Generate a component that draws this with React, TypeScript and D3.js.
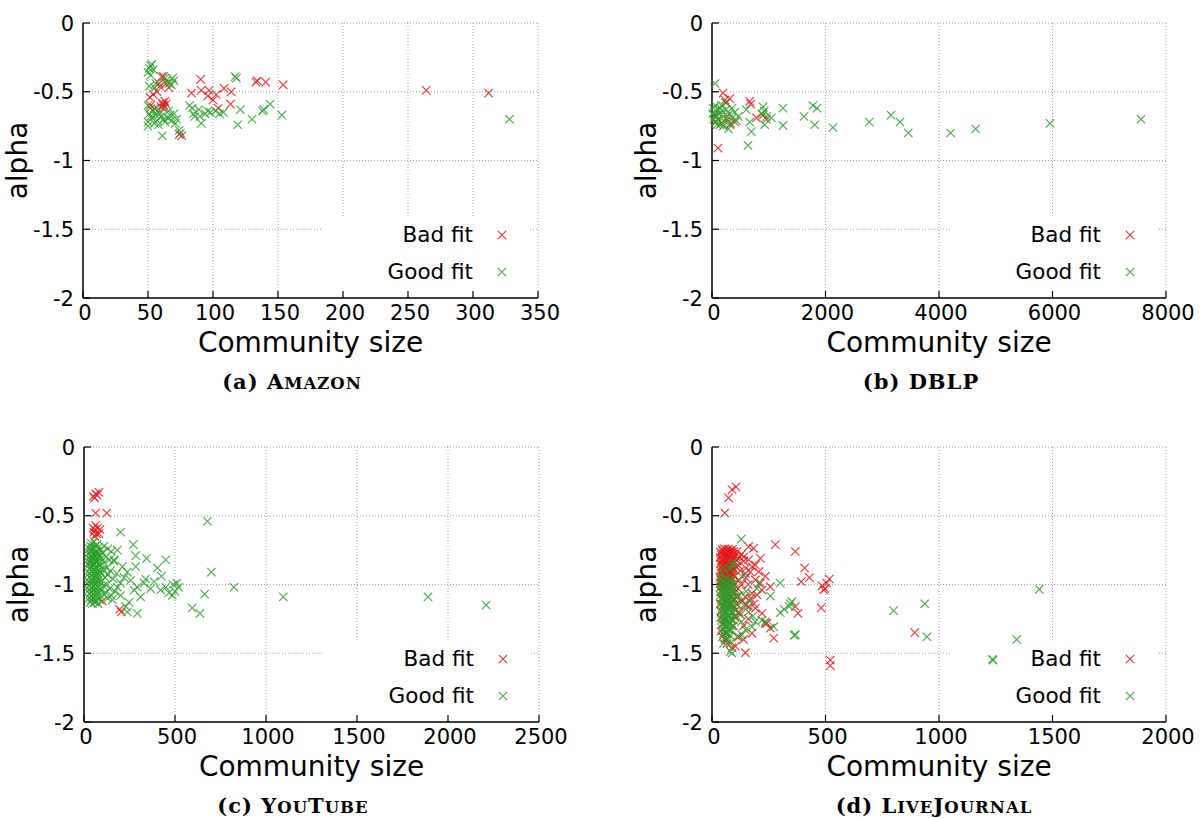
import React from 'react';
import * as d3 from 'd3';

type Pt = [number, number];

// ---- Amazon ----
const amazonBad: Pt[] = [
  [51.5, -0.54], [52, -0.6], [54, -0.52], [55, -0.62],
  [58.5, -0.44], [60.5, -0.39], [62, -0.39], [59, -0.46], [64, -0.44], [66, -0.47], [57, -0.5],
  [61, -0.58], [62, -0.6], [63, -0.57], [60, -0.61], [64, -0.59], [62, -0.62], [61.5, -0.595],
  [74, -0.81], [76, -0.82],
  [90.5, -0.41], [83.5, -0.51], [91, -0.49], [97, -0.49], [96, -0.53], [102.5, -0.52], [100, -0.56],
  [104, -0.62], [108.5, -0.475], [114, -0.5], [113.5, -0.59], [133, -0.43], [134, -0.42],
  [140.5, -0.43], [154, -0.45], [264, -0.49], [312, -0.51],
];
const amazonGood: Pt[] = [
  [52, -0.31], [51, -0.33], [54, -0.34], [53, -0.3], [50, -0.36], [52, -0.38],
  [56, -0.44], [51, -0.46], [55, -0.47],
  [63, -0.4], [64, -0.42], [66, -0.44], [69, -0.4], [68, -0.45], [70, -0.42],
  [50, -0.6], [52, -0.62], [54, -0.64], [51, -0.66], [56, -0.67], [58, -0.63], [53, -0.69],
  [57, -0.71], [50, -0.72], [60, -0.68], [62, -0.7], [55, -0.73], [50, -0.75], [59, -0.66],
  [65, -0.69], [67, -0.67], [63, -0.72], [68, -0.71], [70, -0.66], [72, -0.7], [71, -0.73],
  [52, -0.68], [58, -0.74], [66, -0.64],
  [61, -0.82], [74, -0.78], [75, -0.8],
  [82, -0.6], [85, -0.66], [84, -0.62], [89, -0.63], [90, -0.68], [94, -0.66], [96, -0.64],
  [91, -0.73], [86, -0.68], [98, -0.65], [102, -0.64], [105, -0.66], [108, -0.65],
  [118, -0.4], [117, -0.39], [121, -0.63], [119, -0.74], [130, -0.7], [139, -0.63], [138, -0.64],
  [144, -0.59], [153, -0.67], [328, -0.7],
];

// ---- DBLP ----
const dblpBad: Pt[] = [
  [106, -0.91], [194, -0.51], [312, -0.55], [252, -0.58], [230, -0.56], [664, -0.57], [680, -0.59],
  [781, -0.69], [899, -0.67], [957, -0.7], [47, -0.67], [164, -0.73], [400, -0.72], [100, -0.7],
  [320, -0.74], [270, -0.68], [60, -0.72],
];
const dblpGood: Pt[] = [
  [53, -0.44],
  [20, -0.62], [40, -0.65], [60, -0.6], [80, -0.68], [100, -0.63], [120, -0.66], [150, -0.62],
  [30, -0.7], [70, -0.72], [110, -0.7], [140, -0.74], [180, -0.64], [200, -0.68], [230, -0.72],
  [250, -0.63], [270, -0.7], [300, -0.66], [330, -0.73], [360, -0.69], [400, -0.65], [430, -0.71],
  [460, -0.68], [200, -0.75], [290, -0.77], [170, -0.6], [240, -0.58], [350, -0.62], [90, -0.74],
  [50, -0.68], [15, -0.66],
  [634, -0.89], [693, -0.79], [664, -0.72], [605, -0.63], [899, -0.61], [920, -0.64], [1045, -0.69],
  [928, -0.74], [880, -0.66], [960, -0.68], [1251, -0.62], [1251, -0.745], [1621, -0.68],
  [1780, -0.6], [1850, -0.62], [1809, -0.74], [2132, -0.76], [2772, -0.72], [3154, -0.67],
  [3313, -0.72], [3459, -0.8], [4206, -0.8], [4646, -0.77], [5956, -0.73], [7559, -0.7],
];

// ---- YouTube ----
const youtubeBad: Pt[] = [
  [51, -0.36], [64, -0.34], [82, -0.33], [72, -0.35], [58, -0.37], [64, -0.48], [125, -0.48],
  [64, -0.57], [50, -0.59], [58, -0.6], [75, -0.59], [88, -0.6], [54, -0.62], [68, -0.63],
  [82, -0.63], [60, -0.65], [101, -1.12], [205, -1.2], [196, -1.18],
];
const youtubeGood: Pt[] = [
  [40, -0.7], [55, -0.69], [70, -0.71],
  [35, -0.72], [48, -0.73], [62, -0.72], [80, -0.73], [110, -0.72],
  [30, -0.74], [42, -0.75], [56, -0.74], [70, -0.76], [90, -0.75], [130, -0.74],
  [28, -0.77], [38, -0.76], [50, -0.78], [64, -0.77], [78, -0.78], [100, -0.77], [150, -0.76],
  [32, -0.79], [45, -0.8], [58, -0.79], [72, -0.8], [88, -0.79], [120, -0.8],
  [27, -0.81], [36, -0.82], [48, -0.81], [60, -0.83], [74, -0.82], [95, -0.81], [140, -0.82],
  [30, -0.84], [42, -0.83], [54, -0.85], [67, -0.84], [82, -0.85], [110, -0.84], [165, -0.83],
  [26, -0.86], [38, -0.87], [50, -0.86], [62, -0.88], [76, -0.87], [92, -0.86], [125, -0.88],
  [33, -0.89], [45, -0.9], [57, -0.89], [70, -0.91], [86, -0.9], [105, -0.89], [145, -0.9],
  [28, -0.92], [40, -0.93], [52, -0.92], [64, -0.94], [78, -0.93], [98, -0.92], [130, -0.93], [180, -0.92],
  [31, -0.95], [43, -0.96], [55, -0.95], [68, -0.97], [84, -0.96], [115, -0.95], [160, -0.96],
  [26, -0.98], [37, -0.99], [49, -0.98], [61, -1.0], [74, -0.99], [92, -0.98], [125, -1.0], [200, -0.99],
  [30, -1.01], [42, -1.02], [54, -1.01], [66, -1.03], [80, -1.02], [105, -1.01], [140, -1.03],
  [27, -1.04], [39, -1.05], [51, -1.04], [63, -1.06], [77, -1.05], [95, -1.04], [120, -1.06], [170, -1.05],
  [32, -1.07], [44, -1.08], [56, -1.07], [69, -1.09], [88, -1.08], [110, -1.07], [150, -1.08],
  [28, -1.1], [40, -1.11], [52, -1.1], [65, -1.12], [85, -1.11], [130, -1.1],
  [35, -1.13], [47, -1.14], [60, -1.13], [78, -1.14],
  [201, -0.62], [271, -0.71], [284, -0.79], [344, -0.81], [449, -0.82], [403, -0.88], [425, -0.94],
  [339, -0.96], [330, -0.99], [366, -1.03], [293, -1.02], [256, -0.97], [238, -0.91], [284, -0.87],
  [183, -0.75], [165, -0.82], [211, -0.87], [220, -0.95], [183, -1.02], [201, -1.08], [156, -1.11],
  [238, -1.2], [229, -1.16], [247, -1.13], [275, -1.04], [311, -1.09], [293, -1.21],
  [385, -0.98], [449, -1.02], [421, -1.04], [467, -1.06], [485, -1.08], [490, -1.0], [510, -0.99],
  [520, -1.02], [500, -1.05],
  [678, -0.54], [700, -0.91], [824, -1.02], [1095, -1.09], [663, -1.07], [595, -1.17], [637, -1.21],
  [1890, -1.09], [2210, -1.15],
];

// ---- LiveJournal ----
const livejournalBad: Pt[] = [
  [45, -0.745], [55, -0.74], [64, -0.748], [72, -0.742], [80, -0.75], [90, -0.746],
  [38, -0.765], [48, -0.76], [58, -0.768], [67, -0.762], [76, -0.77], [85, -0.764], [96, -0.76],
  [42, -0.785], [52, -0.78], [61, -0.79], [70, -0.783], [80, -0.788], [91, -0.78], [102, -0.79],
  [36, -0.805], [46, -0.81], [56, -0.8], [65, -0.808], [74, -0.803], [86, -0.81], [97, -0.806],
  [40, -0.83], [50, -0.825], [59, -0.832], [68, -0.828], [78, -0.835], [89, -0.83], [110, -0.825],
  [37, -0.85], [47, -0.855], [56, -0.848], [64, -0.853], [73, -0.85], [83, -0.857], [94, -0.85],
  [43, -0.875], [53, -0.87], [62, -0.878], [71, -0.872], [80, -0.88], [91, -0.875], [105, -0.87],
  [38, -0.9], [48, -0.895], [57, -0.902], [66, -0.898], [76, -0.905], [86, -0.9], [98, -0.895],
  [41, -0.92], [51, -0.925], [60, -0.918], [69, -0.927], [79, -0.922], [92, -0.93],
  [36, -0.945], [46, -0.94], [55, -0.948], [64, -0.943], [73, -0.95], [84, -0.945], [100, -0.94],
  [40, -0.97], [50, -0.965], [58, -0.972], [67, -0.968], [77, -0.975], [88, -0.97],
  [37, -0.99], [47, -0.995], [56, -0.988], [66, -0.996], [80, -0.99], [95, -1.0],
  [42, -1.015], [52, -1.02], [62, -1.012], [75, -1.025], [90, -1.02],
  [38, -1.05], [48, -1.06], [60, -1.045], [72, -1.07], [86, -1.055], [100, -1.06],
  [40, -1.1], [55, -1.09], [68, -1.11], [82, -1.095], [96, -1.1], [112, -1.09],
  [36, -1.14], [50, -1.15], [64, -1.13], [78, -1.145], [92, -1.15], [108, -1.14],
  [42, -1.19], [58, -1.2], [72, -1.18], [88, -1.2], [104, -1.19], [118, -1.2],
  [38, -1.24], [54, -1.25], [70, -1.23], [86, -1.26], [102, -1.24],
  [44, -1.29], [60, -1.3], [76, -1.28], [94, -1.3],
  [40, -1.34], [58, -1.35], [76, -1.33],
  [46, -1.38], [64, -1.4],
  [110, -0.76], [120, -0.8], [115, -0.86], [125, -0.9], [130, -0.78], [140, -0.83], [150, -0.88],
  [161, -0.725], [183, -0.737], [213, -0.81], [191, -0.858], [206, -0.907], [176, -0.87],
  [147, -0.92], [191, -0.967], [213, -0.99], [176, -1.064], [198, -1.076], [220, -1.04],
  [147, -1.088], [161, -1.16], [191, -1.173], [220, -1.21], [242, -1.282], [257, -1.318],
  [176, -1.355], [139, -1.4], [117, -1.38], [103, -1.45], [66, -1.43], [59, -1.4], [88, -1.46],
  [147, -1.496], [235, -0.94], [257, -1.016], [130, -1.0], [135, -1.12], [125, -1.22], [160, -1.25],
  [140, -1.3], [235, -1.282], [272, -1.39], [139, -0.8], [161, -0.82], [169, -0.91], [150, -0.95],
  [120, -0.97], [160, -1.0], [115, -1.03], [170, -1.1], [185, -1.14], [150, -1.15],
  [56, -0.48], [73, -0.37], [88, -0.31], [106, -0.29], [279, -0.71], [367, -0.76], [408, -0.88],
  [429, -0.95], [393, -0.98], [517, -0.96], [498, -1.03], [485, -1.01], [505, -0.99], [492, -1.04],
  [481, -1.17], [379, -1.21], [367, -1.16], [521, -1.55], [521, -1.59], [893, -1.35],
];
const livejournalGood: Pt[] = [
  [38, -0.96], [50, -0.97], [62, -0.955], [74, -0.975], [86, -0.965],
  [42, -0.99], [55, -1.0], [67, -0.995], [80, -1.005], [95, -0.99],
  [36, -1.02], [48, -1.03], [60, -1.025], [72, -1.035], [85, -1.02], [100, -1.03],
  [40, -1.05], [52, -1.06], [64, -1.055], [77, -1.065], [90, -1.05],
  [37, -1.08], [49, -1.09], [61, -1.085], [73, -1.095], [86, -1.08], [105, -1.09],
  [42, -1.11], [54, -1.12], [66, -1.115], [79, -1.125], [93, -1.11],
  [38, -1.14], [50, -1.15], [62, -1.145], [75, -1.155], [88, -1.14], [110, -1.15],
  [44, -1.17], [56, -1.18], [68, -1.175], [82, -1.185], [97, -1.17],
  [40, -1.2], [52, -1.21], [64, -1.205], [77, -1.215], [90, -1.2], [120, -1.21],
  [46, -1.23], [58, -1.24], [70, -1.235], [84, -1.245], [100, -1.23],
  [42, -1.26], [54, -1.27], [66, -1.265], [80, -1.275], [95, -1.26], [130, -1.27],
  [48, -1.29], [60, -1.3], [74, -1.295], [90, -1.305],
  [44, -1.32], [57, -1.33], [70, -1.325], [86, -1.335],
  [50, -1.36], [65, -1.355], [80, -1.37],
  [55, -1.39], [72, -1.4],
  [88, -0.858], [81, -0.882], [95, -0.84], [50, -0.88], [45, -0.92], [129, -0.67], [132, -0.94],
  [206, -0.99], [198, -1.03], [257, -1.084], [301, -0.99], [352, -1.125], [345, -1.14], [340, -1.16],
  [301, -1.205], [318, -1.18], [367, -1.365], [362, -1.37], [272, -1.307], [235, -1.27], [220, -1.26],
  [191, -1.27], [176, -1.307], [147, -1.33], [132, -1.367], [110, -1.38], [81, -1.428], [81, -1.488],
  [88, -1.5], [51, -1.428], [160, -1.2], [140, -1.15], [120, -1.08], [150, -1.05], [165, -1.12],
  [180, -1.23],
  [800, -1.19], [937, -1.14], [947, -1.38], [1442, -1.035], [1342, -1.4], [1239, -1.55], [1235, -1.545],
];

const yTickValues = [-2, -1.5, -1, -0.5, 0];
const legendLabels = ['Bad fit', 'Good fit'];

interface PanelSpec {
  id: string;
  left: number;
  right: number;
  top: number;
  bottom: number;
  xMax: number;
  xStep: number;
  bad: Pt[];
  good: Pt[];
  caption: [string, boolean][];
  captionX: number;
}

const RED = '#e41a1c';
const GREEN = '#2ca02c';
const SANS = 'DejaVu Sans, sans-serif';
const SERIF = 'DejaVu Serif, serif';

const panels: PanelSpec[] = [
  { id: 'a', left: 83, right: 538, top: 23, bottom: 298, xMax: 350, xStep: 50,
    bad: amazonBad, good: amazonGood, captionX: 292,
    caption: [['(a) A', false], ['MAZON', true]] },
  { id: 'b', left: 712, right: 1166, top: 23, bottom: 298, xMax: 8000, xStep: 2000,
    bad: dblpBad, good: dblpGood, captionX: 921,
    caption: [['(b) DBLP', false]] },
  { id: 'c', left: 84, right: 539, top: 447, bottom: 722, xMax: 2500, xStep: 500,
    bad: youtubeBad, good: youtubeGood, captionX: 293,
    caption: [['(c) Y', false], ['OU', true], ['T', false], ['UBE', true]] },
  { id: 'd', left: 712, right: 1166, top: 447, bottom: 722, xMax: 2000, xStep: 500,
    bad: livejournalBad, good: livejournalGood, captionX: 934,
    caption: [['(d) L', false], ['IVE', true], ['J', false], ['OURNAL', true]] },
];

const crossPath = 'M-4.2,-4.2L4.2,4.2M-4.2,4.2L4.2,-4.2';

function Cross({ cx, cy, color }: { cx: number; cy: number; color: string }) {
  return (
    <path d={crossPath} transform={`translate(${cx},${cy})`} stroke={color}
      strokeWidth={1.2} strokeOpacity={0.85} fill="none" />
  );
}

function Panel({ s }: { s: PanelSpec }) {
  const x = d3.scaleLinear().domain([0, s.xMax]).range([s.left, s.right]);
  const y = d3.scaleLinear().domain([-2, 0]).range([s.bottom, s.top]);
  const xTicks = d3.range(0, s.xMax + s.xStep / 2, s.xStep);
  const boxL = s.right - 216;
  const boxR = s.right - 8;
  const boxT = s.bottom - 81;
  const grid = { stroke: '#a0a0a0', strokeWidth: 1, strokeDasharray: '1,2' };

  return (
    <g>
      {/* dotted grid */}
      {yTickValues.filter(v => v > -2).map(v => (
        <line key={'gy' + v} x1={s.left} x2={s.right} y1={y(v)} y2={y(v)} {...grid} />
      ))}
      {xTicks.filter(v => v > 0).map(v => (
        <line key={'gx' + v} x1={x(v)} x2={x(v)} y1={s.top} y2={s.bottom} {...grid} />
      ))}
      {/* opaque key box */}
      <rect x={boxL} y={boxT} width={boxR - boxL} height={s.bottom - boxT - 1} fill="#fff" />

      {/* axes */}
      <line x1={s.left} x2={s.left} y1={s.top} y2={s.bottom} stroke="#000" strokeWidth={1.5} />
      <line x1={s.left} x2={s.right} y1={s.bottom} y2={s.bottom} stroke="#000" strokeWidth={1.5} />
      {yTickValues.map(v => (
        <g key={'ty' + v}>
          <line x1={s.left} x2={s.left + 7} y1={y(v)} y2={y(v)} stroke="#000" strokeWidth={1.2} />
          <text x={s.left - 9} y={y(v)} dy="0.36em" textAnchor="end" fontSize={21}
            fontFamily={SANS}>{String(v)}</text>
        </g>
      ))}
      {xTicks.map(v => (
        <g key={'tx' + v}>
          <line x1={x(v)} x2={x(v)} y1={s.bottom} y2={s.bottom - 7} stroke="#000" strokeWidth={1.2} />
          <text x={x(v) + 2} y={s.bottom + 22} textAnchor="middle" fontSize={21}
            fontFamily={SANS}>{String(v)}</text>
        </g>
      ))}

      {/* points */}
      {s.bad.map((p, i) => <Cross key={'b' + i} cx={x(p[0])} cy={y(p[1])} color={RED} />)}
      {s.good.map((p, i) => <Cross key={'g' + i} cx={x(p[0])} cy={y(p[1])} color={GREEN} />)}

      {/* key */}
      {legendLabels.map((lab, i) => (
        <g key={lab}>
          <text x={s.right - 65} y={s.bottom - 56 + i * 37} textAnchor="end" fontSize={21.5}
            fontFamily={SANS}>{lab}</text>
          <Cross cx={s.right - 36} cy={s.bottom - 63 + i * 37} color={i === 0 ? RED : GREEN} />
        </g>
      ))}

      {/* axis titles */}
      <text x={(s.left + s.right) / 2} y={s.bottom + 54} textAnchor="middle" fontSize={28}
        fontFamily={SANS}>Community size</text>
      <text transform={`translate(${s.left - 56},${(s.top + s.bottom) / 2}) rotate(-90)`}
        textAnchor="middle" fontSize={28} fontFamily={SANS}>alpha</text>

      {/* caption */}
      <text x={s.captionX} y={s.bottom + 91} textAnchor="middle" fontFamily={SERIF}
        fontWeight="bold" fontSize={21} letterSpacing={1}>
        {s.caption.map(([t, small], i) => (
          <tspan key={i} fontSize={small ? 16.5 : 21}>{t}</tspan>
        ))}
      </text>
    </g>
  );
}

export default function App() {
  return (
    <div style={{ position: 'absolute', left: 0, top: 0 }}>
      <svg width={1200} height={819} viewBox="0 0 1200 819" style={{ display: 'block', background: '#fff' }}>
        <rect x={0} y={0} width={1200} height={819} fill="#fff" />
        {panels.map(p => <Panel key={p.id} s={p} />)}
      </svg>
    </div>
  );
}
